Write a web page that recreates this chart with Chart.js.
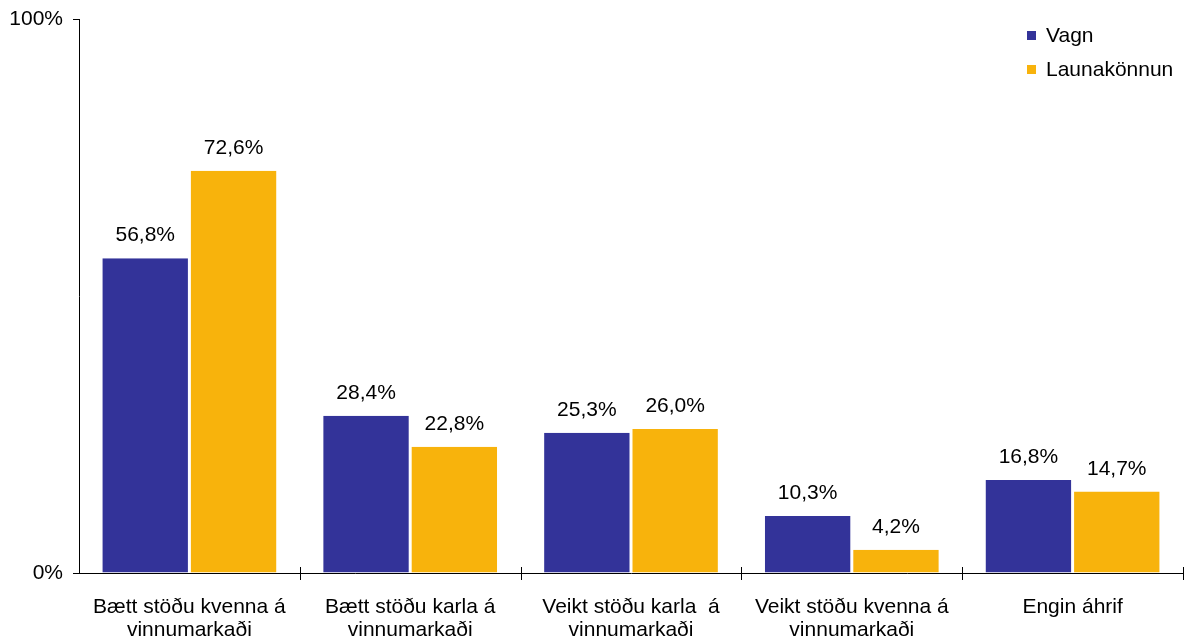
<!DOCTYPE html>
<html>
<head>
<meta charset="utf-8">
<script src="https://cdn.jsdelivr.net/npm/chart.js@4/dist/chart.umd.min.js"></script>
<style>
  html, body { margin: 0; padding: 0; background: #fff; }
  #wrap { position: relative; width: 1187px; height: 641px; }
  #legend { position: absolute; left: 1027px; top: 21px; font-family: "Liberation Sans", Arial, sans-serif; font-size: 21px; color: #000; }
  #legend div { height: 34px; line-height: 28px; white-space: nowrap; }
  #legend span.sw { display: inline-block; width: 9px; height: 9px; margin-right: 10px; vertical-align: 2px; }
</style>
</head>
<body>
<div id="wrap">
  <canvas id="c" width="1187" height="641"></canvas>
  <div id="legend"></div>
</div>
<script>
const categories = [
  ["Bætt stöðu kvenna á", "vinnumarkaði"],
  ["Bætt stöðu karla á", "vinnumarkaði"],
  ["Veikt stöðu karla  á", "vinnumarkaði"],
  ["Veikt stöðu kvenna á", "vinnumarkaði"],
  ["Engin áhrif"]
];
const seriesNames = ["Vagn", "Launakönnun"];
const vagn = [56.8, 28.4, 25.3, 10.3, 16.8];
const launakonnun = [72.6, 22.8, 26.0, 4.2, 14.7];
const yTicks = [0, 100];
const colors = ["#333399", "#F8B30C"];

const FONT = '"Liberation Sans", Arial, sans-serif';
const FS = 21;

const legendEl = document.getElementById('legend');
seriesNames.forEach((n, i) => {
  const d = document.createElement('div');
  d.innerHTML = '<span class="sw" style="background:' + colors[i] + '"></span>' + n;
  legendEl.appendChild(d);
});

const fmt = v => v.toFixed(1).replace('.', ',') + '%';

const labelPlugin = {
  id: 'barLabels',
  afterDatasetsDraw(chart) {
    const ctx = chart.ctx;
    ctx.save();
    ctx.font = FS + 'px ' + FONT;
    ctx.fillStyle = '#000';
    ctx.textAlign = 'center';
    ctx.textBaseline = 'alphabetic';
    chart.data.datasets.forEach((ds, di) => {
      chart.getDatasetMeta(di).data.forEach((bar, i) => {
        ctx.fillText(fmt(ds.data[i]), bar.x, bar.y - 17);
      });
    });
    ctx.restore();
  }
};

const axisTickPlugin = {
  id: 'crossTicks',
  afterDraw(chart) {
    const xs = chart.scales.x;
    const ctx = chart.ctx;
    const y = chart.chartArea.bottom;
    const n = chart.data.labels.length;
    ctx.save();
    ctx.strokeStyle = '#000';
    ctx.lineWidth = 1;
    for (let i = 0; i < n; i++) {
      const c = xs.getPixelForValue(i);
      const next = i < n - 1 ? xs.getPixelForValue(i + 1) : c + (c - xs.getPixelForValue(i - 1));
      const bx = Math.round((c + next) / 2) + 0.5;
      ctx.beginPath();
      ctx.moveTo(bx, y - 6);
      ctx.lineTo(bx, y + 7);
      ctx.stroke();
    }
    ctx.restore();
  }
};

new Chart(document.getElementById('c'), {
  type: 'bar',
  data: {
    labels: categories,
    datasets: [
      { label: seriesNames[0], data: vagn, backgroundColor: colors[0], borderColor: '#ffffff', borderWidth: {left: 1.5, right: 1.5, top: 0, bottom: 0}, borderSkipped: false },
      { label: seriesNames[1], data: launakonnun, backgroundColor: colors[1], borderColor: '#ffffff', borderWidth: {left: 1.5, right: 1.5, top: 0, bottom: 0}, borderSkipped: false }
    ]
  },
  options: {
    responsive: false,
    animation: false,
    devicePixelRatio: 1,
    layout: { padding: { top: 19, right: 4, left: 0, bottom: 0 } },
    plugins: { legend: { display: false }, tooltip: { enabled: false } },
    datasets: { bar: { categoryPercentage: 0.8, barPercentage: 1.0 } },
    scales: {
      x: {
        offset: true,
        grid: { display: false, drawOnChartArea: false },
        border: { display: true, color: '#000', width: 1 },
        ticks: { color: '#000', font: { family: FONT, size: FS, lineHeight: 1.07 }, maxRotation: 0, autoSkip: false, padding: 15 },
        afterFit(s) { s.height = 641 - 573; s.paddingLeft = 0; s.paddingRight = 0; }
      },
      y: {
        min: 0, max: 100,
        afterBuildTicks(s) { s.ticks = yTicks.map(v => ({ value: v })); },
        grid: { drawOnChartArea: false, drawTicks: true, tickLength: 6, color: '#000' },
        border: { display: true, color: '#000', width: 1 },
        ticks: { color: '#000', font: { family: FONT, size: FS }, padding: 10, callback: v => v + '%' },
        afterFit(s) { s.width = 79; s.paddingTop = 0; s.paddingBottom = 0; }
      }
    }
  },
  plugins: [labelPlugin, axisTickPlugin]
});
</script>
</body>
</html>
